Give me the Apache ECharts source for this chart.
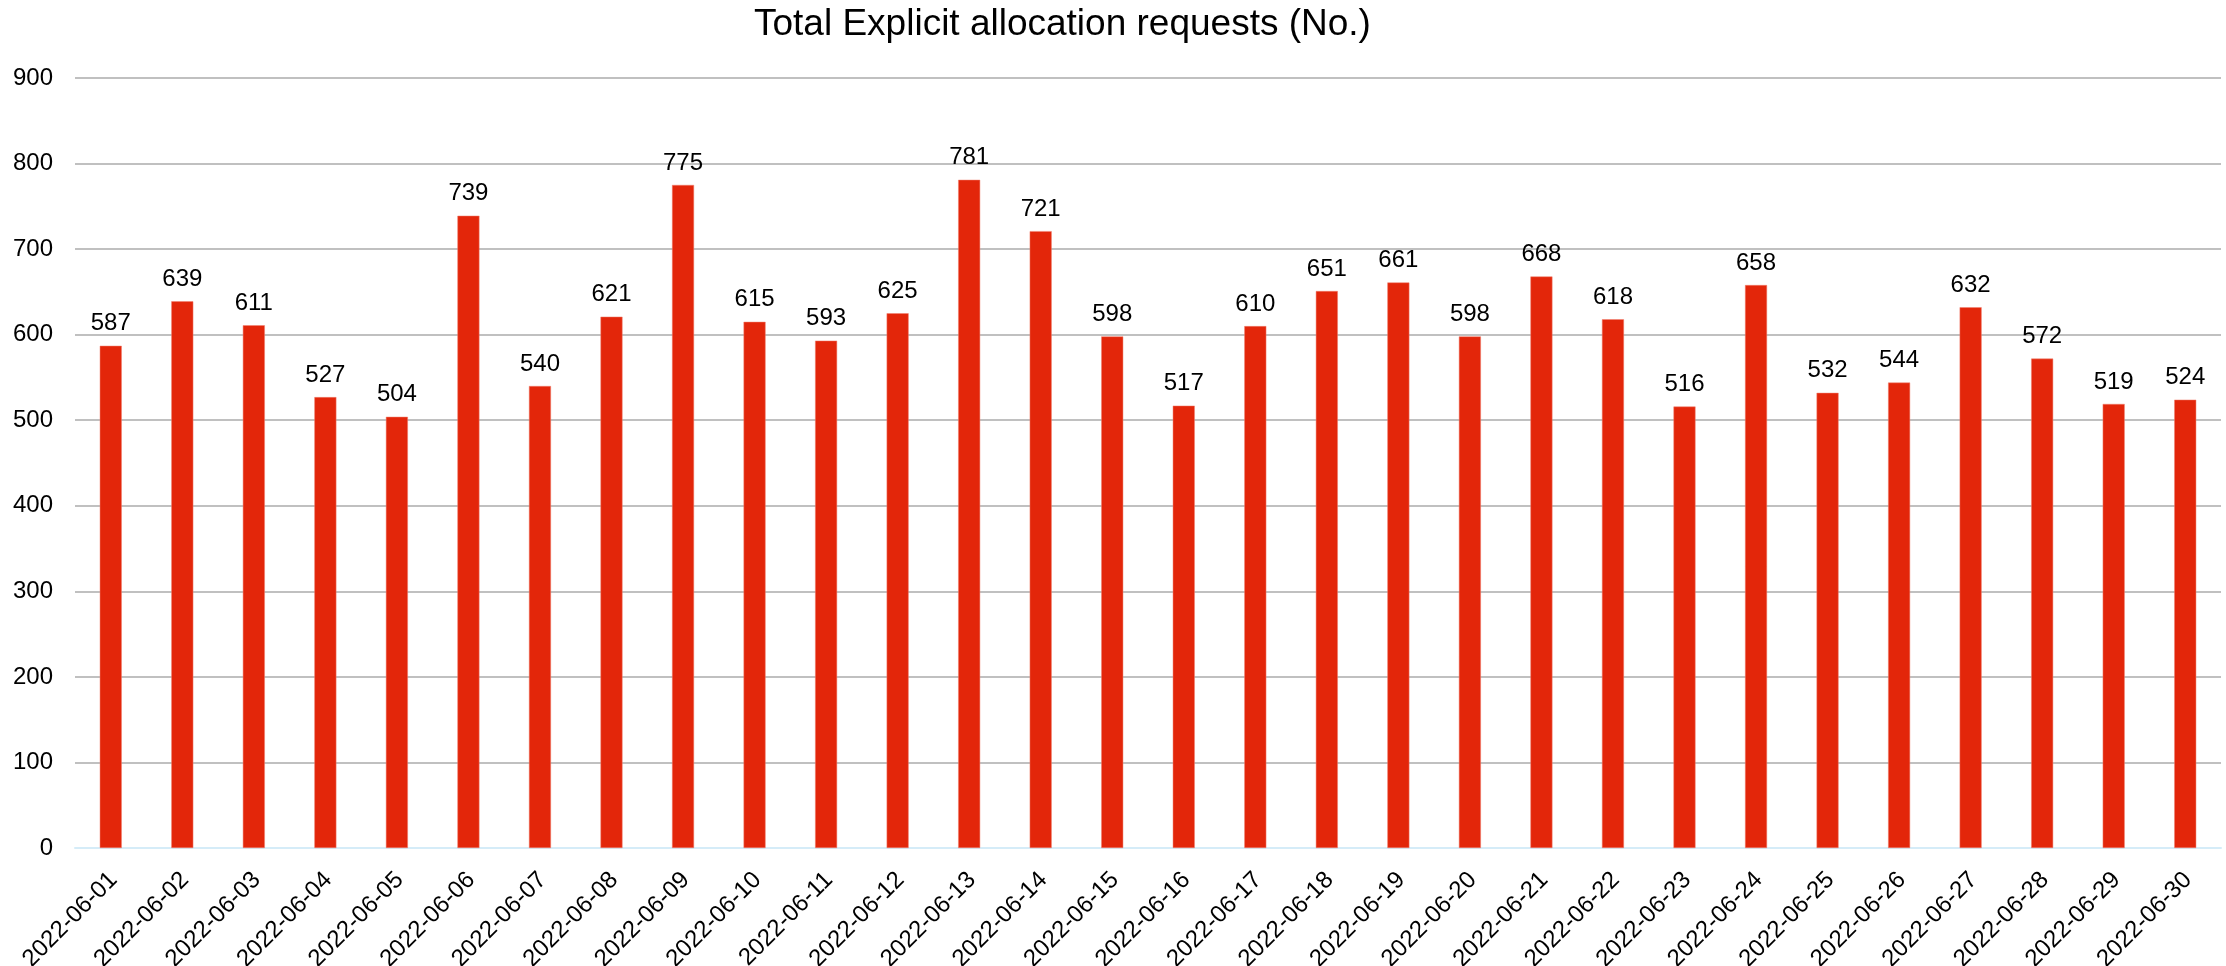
<!DOCTYPE html>
<html>
<head>
<meta charset="utf-8">
<script src="https://cdn.jsdelivr.net/npm/echarts@6/dist/echarts.min.js"></script>
<style>
html,body{margin:0;padding:0;background:#fff;}
#chart{width:2226px;height:966px;}
</style>
</head>
<body>
<div id="chart"></div>
<script>
const titleText = 'Total Explicit allocation requests (No.)';
const categories = ['2022-06-01','2022-06-02','2022-06-03','2022-06-04','2022-06-05','2022-06-06','2022-06-07','2022-06-08','2022-06-09','2022-06-10','2022-06-11','2022-06-12','2022-06-13','2022-06-14','2022-06-15','2022-06-16','2022-06-17','2022-06-18','2022-06-19','2022-06-20','2022-06-21','2022-06-22','2022-06-23','2022-06-24','2022-06-25','2022-06-26','2022-06-27','2022-06-28','2022-06-29','2022-06-30'];
const requests = [587,639,611,527,504,739,540,621,775,615,593,625,781,721,598,517,610,651,661,598,668,618,516,658,532,544,632,572,519,524];
const yMin = 0, yMax = 900, yInterval = 100;

const FONT = '"Liberation Sans", Arial, sans-serif';
const chart = echarts.init(document.getElementById('chart'));
chart.setOption({
  backgroundColor: '#ffffff',
  animation: false,
  title: {
    text: titleText,
    left: 754,
    top: 6,
    padding: 0,
    textStyle: { fontFamily: FONT, fontSize: 37, fontWeight: 'normal', color: '#000' }
  },
  grid: { left: 75, right: 5, top: 78, bottom: 118, containLabel: false, outerBoundsMode: 'none' },
  xAxis: {
    type: 'category',
    data: categories,
    axisLine: { show: true, lineStyle: { color: '#d5ecf8', width: 2 } },
    axisTick: { show: false },
    axisLabel: { rotate: 45, interval: 0, margin: 14, align: 'right', verticalAlign: 'top',
                 padding: [0, 8, 0, 0],
                 fontFamily: FONT, fontSize: 24, color: '#000' }
  },
  yAxis: {
    type: 'value',
    min: yMin, max: yMax, interval: yInterval,
    axisLine: { show: false },
    axisTick: { show: false },
    splitLine: { lineStyle: { color: '#c0c0c0', width: 2 } },
    axisLabel: { margin: 22, fontFamily: FONT, fontSize: 24, color: '#000' }
  },
  series: [{
    type: 'bar',
    data: requests,
    barWidth: 22,
    itemStyle: { color: '#e3260a', borderColor: '#f08070', borderWidth: 0.5 },
    label: { show: true, position: 'top', distance: 10, fontFamily: FONT, fontSize: 24, color: '#000' }
  }]
});
</script>
</body>
</html>
